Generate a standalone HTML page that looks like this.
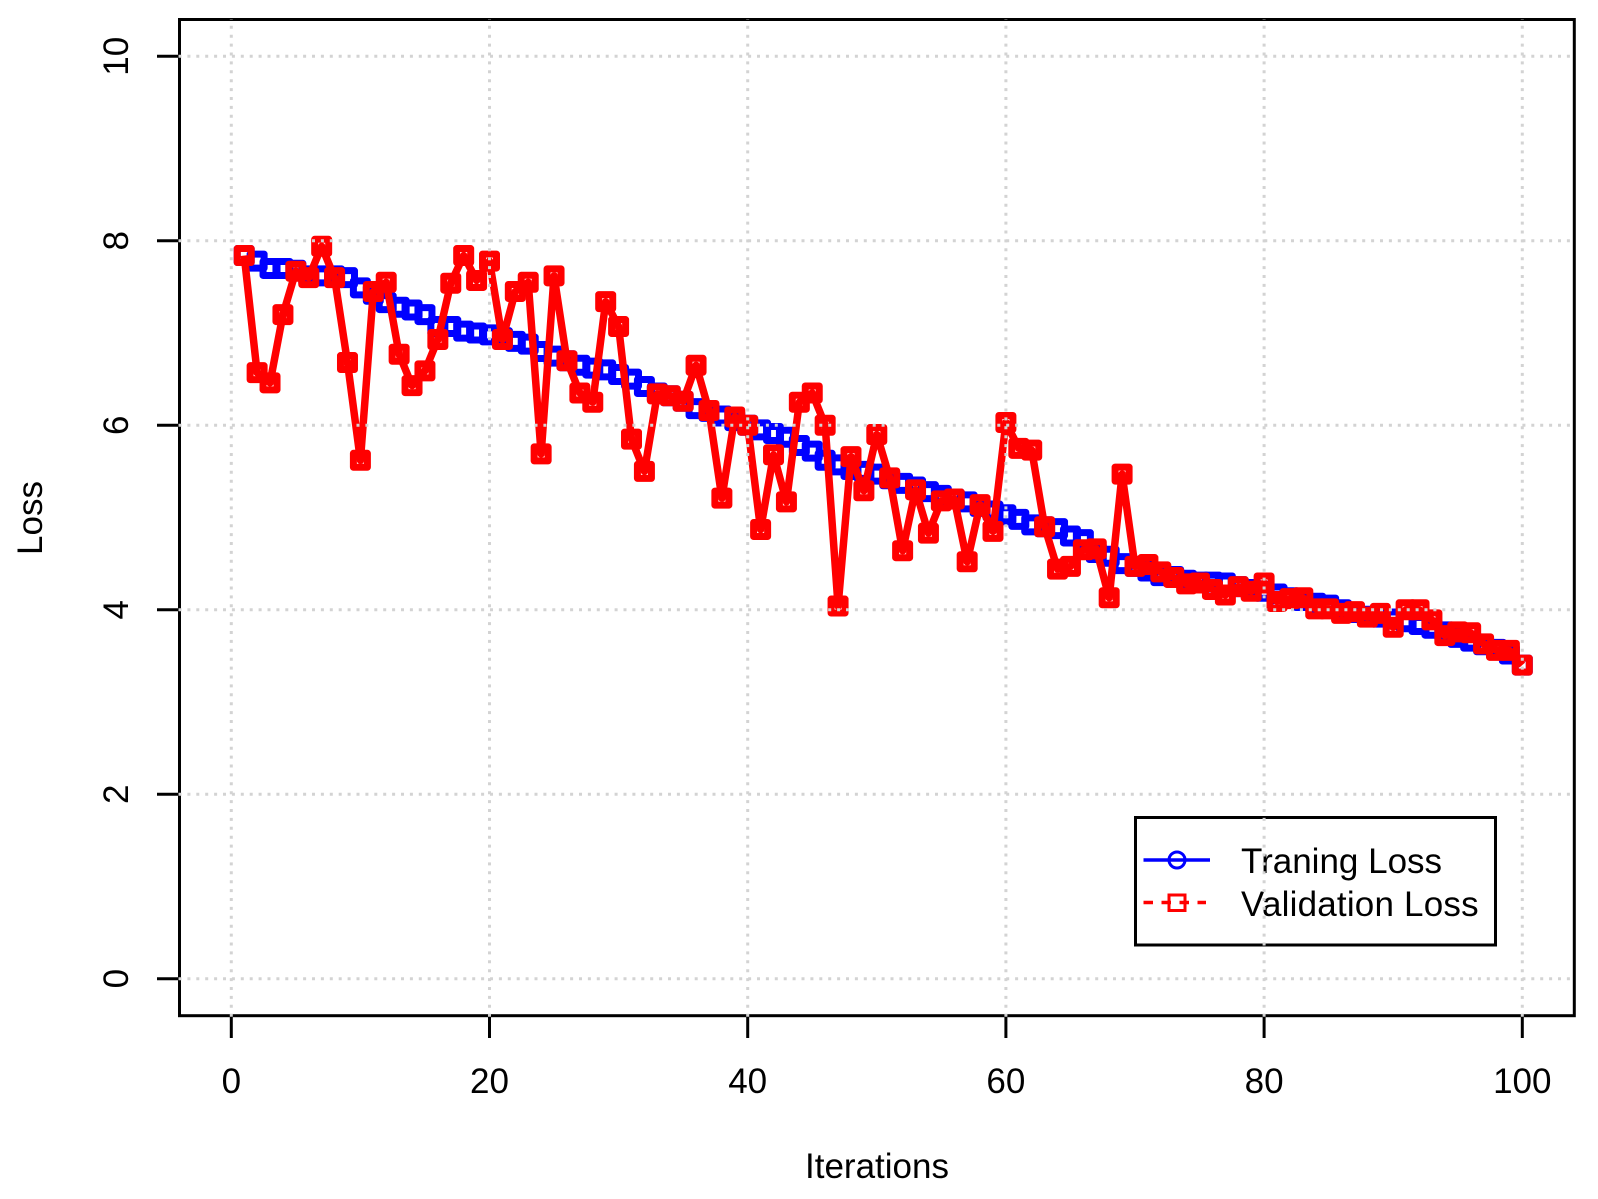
<!DOCTYPE html>
<html lang="en">
<head>
<meta charset="utf-8">
<title>Loss vs Iterations</title>
<style>
html,body{margin:0;padding:0;background:#fff;}
svg{display:block;}
text{font-family:"Liberation Sans",Arial,sans-serif;font-size:35px;fill:#000;}
</style>
</head>
<body>
<svg id="chart" xmlns="http://www.w3.org/2000/svg" width="1598" height="1199" viewBox="0 0 1598 1199">
  <rect x="0" y="0" width="1598" height="1199" fill="#fff"/>
  <g id="series-layer"></g>
  <rect x="179.5" y="19.5" width="1394.8" height="996.2" fill="none" stroke="#000" stroke-width="3"/>
  <g id="x-axis"></g>
  <g id="y-axis"></g>
  <text x="877" y="1178" text-anchor="middle">Iterations</text>
  <text transform="translate(42 518) rotate(-90)" text-anchor="middle">Loss</text>
  <g id="legend">
    <rect x="1135.5" y="817.5" width="360" height="127.5" fill="none" stroke="#000" stroke-width="3"/>
    <g>
      <line x1="1143.5" y1="860" x2="1210" y2="860" stroke="#00f" stroke-width="3.5"/>
      <circle cx="1177" cy="860" r="8" fill="none" stroke="#00f" stroke-width="3"/>
      <text x="1241" y="873">Traning Loss</text>
    </g>
    <g>
      <line x1="1143.5" y1="902.5" x2="1206" y2="902.5" stroke="#f00" stroke-width="3.5" stroke-dasharray="9.5 8.5"/>
      <rect x="1169" y="895" width="16" height="15.5" fill="none" stroke="#f00" stroke-width="3"/>
      <text x="1241" y="916" letter-spacing="0.2">Validation Loss</text>
    </g>
  </g>
  <g id="grid-layer"></g>
</svg>
<script>
const iterations = [1,2,3,4,5,6,7,8,9,10,11,12,13,14,15,16,17,18,19,20,21,22,23,24,25,26,27,28,29,30,31,32,33,34,35,36,37,38,39,40,41,42,43,44,45,46,47,48,49,50,51,52,53,54,55,56,57,58,59,60,61,62,63,64,65,66,67,68,69,70,71,72,73,74,75,76,77,78,79,80,81,82,83,84,85,86,87,88,89,90,91,92,93,94,95,96,97,98,99,100];
const trainingLoss = [7.84,7.78,7.70,7.70,7.68,7.62,7.62,7.62,7.60,7.49,7.42,7.33,7.28,7.25,7.20,7.07,7.07,7.02,7.00,6.98,6.95,6.91,6.88,6.80,6.75,6.70,6.65,6.62,6.60,6.55,6.50,6.42,6.35,6.32,6.26,6.18,6.15,6.10,6.05,6.00,5.95,5.91,5.87,5.78,5.72,5.62,5.57,5.52,5.50,5.47,5.42,5.37,5.33,5.28,5.24,5.20,5.17,5.12,5.07,5.03,4.98,4.92,4.90,4.88,4.80,4.76,4.62,4.58,4.50,4.47,4.42,4.37,4.36,4.32,4.30,4.30,4.29,4.25,4.22,4.20,4.17,4.13,4.10,4.07,4.05,4.00,3.97,3.93,3.92,3.90,3.87,3.84,3.80,3.76,3.70,3.66,3.62,3.57,3.52,3.40];
const validationLoss = [7.84,6.57,6.46,7.20,7.67,7.60,7.94,7.60,6.68,5.62,7.45,7.55,6.77,6.43,6.59,6.93,7.54,7.84,7.57,7.78,6.93,7.45,7.55,5.69,7.62,6.70,6.35,6.25,7.34,7.07,5.85,5.50,6.34,6.32,6.26,6.65,6.16,5.21,6.09,6.00,4.87,5.68,5.17,6.25,6.35,6.00,4.04,5.66,5.29,5.90,5.43,4.64,5.30,4.83,5.18,5.20,4.52,5.14,4.85,6.03,5.75,5.73,4.90,4.44,4.47,4.65,4.66,4.13,5.47,4.47,4.49,4.41,4.35,4.28,4.29,4.22,4.16,4.25,4.20,4.29,4.09,4.12,4.13,4.01,4.01,3.96,3.98,3.92,3.96,3.81,4.00,4.00,3.89,3.72,3.76,3.75,3.63,3.56,3.56,3.40];
const xTicks = [0,20,40,60,80,100];
const yTicks = [0,2,4,6,8,10];

const NS = 'http://www.w3.org/2000/svg';
const FRAME = {left:179.5, right:1574.3, top:19.5, bottom:1015.7};
function xScale(v){ return 231.3 + v * 12.91; }
function yScale(v){ return 978.7 - v * 92.24; }
function make(tag, attrs, parent){
  const el = document.createElementNS(NS, tag);
  for (const k in attrs) el.setAttribute(k, attrs[k]);
  parent.appendChild(el);
  return el;
}

const seriesLayer = document.getElementById('series-layer');
function drawSeries(values, color, key, lineWidth){
  const g = make('g', {fill:'none', stroke:color, 'stroke-linejoin':'round'}, seriesLayer);
  
  
  if (lineWidth > 0) {
    const pts = values.map((v, i) => xScale(iterations[i]).toFixed(2) + ',' + yScale(v).toFixed(2)).join(' ');
    const line = make('polyline', {points:pts, 'stroke-width':lineWidth}, g);
    
    
  }
  values.forEach((v, i) => {
    const cx = xScale(iterations[i]), cy = yScale(v);
    const m = make('rect', {x:(cx - 7).toFixed(2), y:(cy - 7).toFixed(2), width:14, height:14, 'stroke-width':7}, g);
    
    
  });
}
drawSeries(trainingLoss, '#0000ff', 'training-loss', 0);
drawSeries(validationLoss, '#ff0000', 'validation-loss', 7.5);

const xAxis = document.getElementById('x-axis');
xTicks.forEach(t => {
  const x = xScale(t);
  const tick = make('line', {x1:x, x2:x, y1:FRAME.bottom, y2:1038, stroke:'#000', 'stroke-width':3}, xAxis);
  
  
  const label = make('text', {x:x, y:1093, 'text-anchor':'middle'}, xAxis);
  
  
  label.textContent = String(t);
});

const yAxis = document.getElementById('y-axis');
yTicks.forEach(t => {
  const y = yScale(t);
  const tick = make('line', {x1:157, x2:FRAME.left, y1:y, y2:y, stroke:'#000', 'stroke-width':3}, yAxis);
  
  
  const label = make('text', {transform:'translate(128 ' + y + ') rotate(-90)', 'text-anchor':'middle'}, yAxis);
  
  
  label.textContent = String(t);
});

const gridLayer = document.getElementById('grid-layer');
const gridStyle = {stroke:'#d3d3d3', 'stroke-width':3, 'stroke-dasharray':'3 5.9'};
xTicks.forEach(t => {
  const x = xScale(t);
  const gl = make('line', Object.assign({x1:x, x2:x, y1:FRAME.bottom + 1, y2:FRAME.top}, gridStyle), gridLayer);
  
  
});
yTicks.forEach(t => {
  const y = yScale(t);
  const gl = make('line', Object.assign({x1:FRAME.left - 1, x2:FRAME.right, y1:y, y2:y}, gridStyle), gridLayer);
  
  
});
</script>
</body>
</html>
